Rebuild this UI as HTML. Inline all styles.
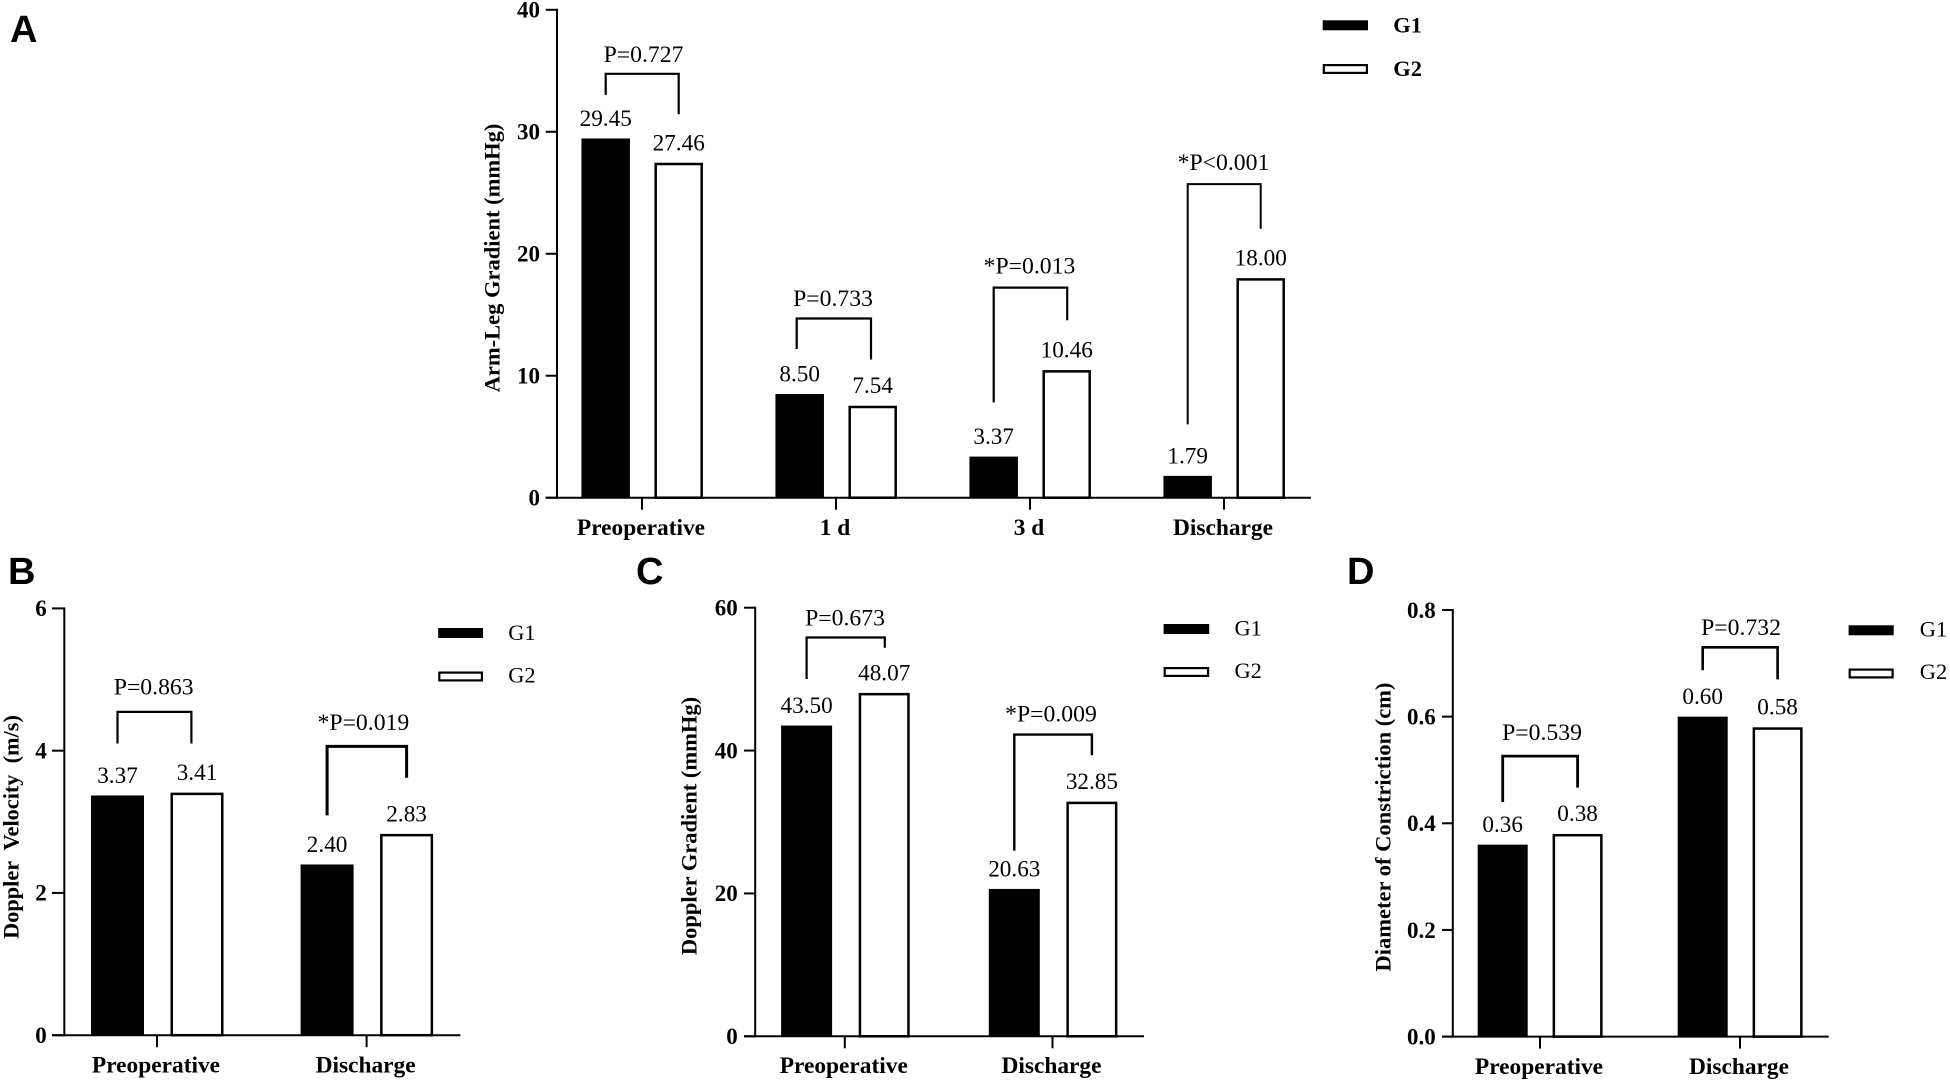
<!DOCTYPE html>
<html lang="en">
<head>
<meta charset="utf-8">
<title>Arm-Leg and Doppler Gradient Comparison</title>
<style>
html,body{margin:0;padding:0;background:#fff;width:1950px;height:1082px;overflow:hidden}
svg{display:block}
text{font-family:"Liberation Serif",serif;fill:#000;white-space:pre}
.bold{font-weight:bold}
.letter{font-family:"Liberation Sans",sans-serif;font-weight:bold;font-size:38px}
</style>
</head>
<body>
<svg id="figure" xmlns="http://www.w3.org/2000/svg" width="1950" height="1082" viewBox="0 0 1950 1082">
<rect x="0" y="0" width="1950" height="1082" fill="#fff"/>
<text class="letter" x="10" y="42">A</text>
<text class="letter" x="8" y="584">B</text>
<text class="letter" x="636" y="584">C</text>
<text class="letter" x="1347" y="584">D</text>
</svg>
<script>
// Panel A: Arm-Leg gradient
const aCategories = ["Preoperative", "1 d", "3 d", "Discharge"];
const aG1 = [29.45, 8.50, 3.37, 1.79];
const aG2 = [27.46, 7.54, 10.46, 18.00];
const aYTicks = ["0", "10", "20", "30", "40"];
const aPLabels = ["P=0.727", "P=0.733", "*P=0.013", "*P<0.001"];
const aBracketTop = [34.75, 14.69, 17.22, 25.71];
const aBracketG1 = [33.03, 12.19, 7.82, 6.01];
const aBracketG2 = [31.45, 11.33, 14.55, 22.05];
const aPLabelLevel = [35.74, 15.70, 18.37, 26.86];

// Panel B: Doppler velocity
const bCategories = ["Preoperative", "Discharge"];
const bG1 = [3.37, 2.40];
const bG2 = [3.41, 2.83];
const bYTicks = ["0", "2", "4", "6"];
const bPLabels = ["P=0.863", "*P=0.019"];
const bBracketTop = [4.545, 4.06];
const bBracketG1 = [4.10, 3.09];
const bBracketG2 = [4.10, 3.62];
const bPLabelLevel = [4.79, 4.29];

// Panel C: Doppler gradient
const cCategories = ["Preoperative", "Discharge"];
const cG1 = [43.50, 20.63];
const cG2 = [48.07, 32.85];
const cYTicks = ["0", "20", "40", "60"];
const cPLabels = ["P=0.673", "*P=0.009"];
const cBracketTop = [55.83, 42.24];
const cBracketG1 = [50.02, 26.0];
const cBracketG2 = [54.40, 39.34];
const cPLabelLevel = [57.54, 44.09];

// Panel D: Diameter of constriction
const dCategories = ["Preoperative", "Discharge"];
const dG1 = [0.36, 0.60];
const dG2 = [0.38, 0.58];
const dYTicks = ["0.0", "0.2", "0.4", "0.6", "0.8"];
const dPLabels = ["P=0.539", "P=0.732"];
const dBracketTop = [0.526, 0.730];
const dBracketG1 = [0.440, 0.687];
const dBracketG2 = [0.467, 0.670];
const dPLabelLevel = [0.556, 0.753];

const NS = "http://www.w3.org/2000/svg";
const fig = document.getElementById("figure");

function make(tag, attrs, parent) {
  const el = document.createElementNS(NS, tag);
  for (const k in attrs) el.setAttribute(k, attrs[k]);
  parent.appendChild(el);
  return el;
}
function line(parent, x1, y1, x2, y2, w) {
  return make("line", {x1: x1, y1: y1, x2: x2, y2: y2, stroke: "#000", "stroke-width": w}, parent);
}
function label(parent, str, x, y, size, anchor, bold) {
  const t = make("text", {x: x, y: y, "font-size": size, "text-anchor": anchor}, parent);
  if (bold) t.setAttribute("class", "bold");
  t.textContent = str;
  return t;
}

function drawPanel(p) {
  const g = make("g", {}, fig);
  
  

  const maxTick = Number(p.yTicks[p.yTicks.length - 1]);
  const yScale = v => p.y0 - (v / maxTick) * (p.y0 - p.yTop);
  const xScale = i => p.firstX + i * p.stepX;
  const g1X = i => xScale(i) + p.off1;
  const g2X = i => xScale(i) + p.off2;

  // bars
  p.g1.forEach((v, i) => {
    const bar = make("rect", {x: g1X(i) - p.barW / 2, y: yScale(v), width: p.barW, height: p.y0 - yScale(v), fill: "#000"}, g);
    
    
    const val = label(g, v.toFixed(2), g1X(i), yScale(v) - p.gap, 23.2, "middle", false);
    
    
  });
  p.g2.forEach((v, i) => {
    const bar = make("rect", {x: g2X(i) - p.barW / 2 + 1.25, y: yScale(v) + 1.25, width: p.barW - 2.5, height: p.y0 - yScale(v) - 1.25, fill: "#fff", stroke: "#000", "stroke-width": 2.5}, g);
    
    
    const val = label(g, v.toFixed(2), g2X(i), yScale(v) - p.gap, 23.2, "middle", false);
    
    
  });

  // axes
  const yAxis = line(g, p.axisX, p.yTop - 1, p.axisX, p.y0 + 1, 2);
  
  
  const xAxis = line(g, p.tickLeft, p.y0, p.xEnd, p.y0, 2);
  
  

  p.yTicks.forEach(t => {
    const y = yScale(Number(t));
    const mark = line(g, p.tickLeft, y, p.axisX, y, 2);
    
    
    const lab = label(g, t, p.tickLabelX, y + 7.8, 23, "end", true);
    
    
  });

  p.categories.forEach((c, i) => {
    const x = xScale(i);
    const mark = line(g, x, p.y0, x, p.y0 + 12, 2);
    
    
    const lab = label(g, c, x - 1, p.catBase, 23.4, "middle", true);
    
    
  });

  // axis title
  const title = label(g, p.title, p.titleX, p.titleY, p.titleSize, "middle", true);
  title.setAttribute("transform", "rotate(-90 " + p.titleX + " " + p.titleY + ")");
  
  

  // significance brackets
  p.pLabels.forEach((txt, i) => {
    const xL = g1X(i) + p.brL[i], xR = g2X(i) + p.brR[i];
    const d = "M" + xL + " " + yScale(p.bracketG1[i]) + "V" + yScale(p.bracketTop[i]) + "H" + xR + "V" + yScale(p.bracketG2[i]);
    const br = make("path", {d: d, fill: "none", stroke: "#000", "stroke-width": p.brW[i]}, g);
    
    
    const pl = label(g, txt, xScale(i) + p.pDx[i], yScale(p.pLevel[i]), 23.7, "middle", false);
    
    
  });

  // legend
  const s1 = make("rect", {x: p.legX, y: p.leg1Y, width: p.legW, height: 10, fill: "#000"}, g);
  
  
  const s2 = make("rect", {x: p.legX + 1.1, y: p.leg2Y + 1.1, width: p.legW - 2.2, height: 7.8, fill: "#fff", stroke: "#000", "stroke-width": 2.2}, g);
  
  
  const t1 = label(g, "G1", p.legTextX, p.leg1Base, 22.4, "start", p.legBold);
  
  
  const t2 = label(g, "G2", p.legTextX, p.leg2Base, 22.4, "start", p.legBold);
  
  
}

drawPanel({id: "a", categories: aCategories, g1: aG1, g2: aG2, yTicks: aYTicks, pLabels: aPLabels,
  bracketTop: aBracketTop, bracketG1: aBracketG1, bracketG2: aBracketG2, pLevel: aPLabelLevel,
  axisX: 557, y0: 497.7, yTop: 9.8, tickLeft: 545.7, xEnd: 1311, firstX: 642, stepX: 194,
  off1: -36.3, off2: 36.7, barW: 48.5, gap: 12.5, tickLabelX: 540, catBase: 535,
  brL: [0, -3, 0, 0], brR: [0, -1.7, 0.5, 0], brW: [2.2, 2.2, 2.2, 2], pDx: [1.5, -3, -0.5, -0.5],
  title: "Arm-Leg Gradient (mmHg)", titleX: 499.7, titleY: 258, titleSize: 22.5,
  legX: 1322.7, legW: 45.3, leg1Y: 20.3, leg2Y: 64, legTextX: 1393.3, leg1Base: 32.6, leg2Base: 76, legBold: true});

drawPanel({id: "b", categories: bCategories, g1: bG1, g2: bG2, yTicks: bYTicks, pLabels: bPLabels,
  bracketTop: bBracketTop, bracketG1: bBracketG1, bracketG2: bBracketG2, pLevel: bPLabelLevel,
  axisX: 64.3, y0: 1035.2, yTop: 608.4, tickLeft: 52, xEnd: 460.4, firstX: 157, stepX: 209.6,
  off1: -39.5, off2: 40, barW: 53, gap: 12.6, tickLabelX: 46.7, catBase: 1072.6,
  brL: [0, 0], brR: [-5.6, 0], brW: [2.2, 3], pDx: [-3.3, -3.2],
  title: "Doppler  Velocity  (m/s)", titleX: 18.4, titleY: 827, titleSize: 22.3,
  legX: 438.2, legW: 44.8, leg1Y: 628, leg2Y: 671.5, legTextX: 508.2, leg1Base: 640, leg2Base: 682.3, legBold: false});

drawPanel({id: "c", categories: cCategories, g1: cG1, g2: cG2, yTicks: cYTicks, pLabels: cPLabels,
  bracketTop: cBracketTop, bracketG1: cBracketG1, bracketG2: cBracketG2, pLevel: cPLabelLevel,
  axisX: 755.2, y0: 1036.3, yTop: 607.7, tickLeft: 744, xEnd: 1144, firstX: 844.8, stepX: 207.7,
  off1: -38.2, off2: 39.4, barW: 51, gap: 12.6, tickLabelX: 737.8, catBase: 1073,
  brL: [0, 0], brR: [0.6, 0], brW: [2.2, 2.4], pDx: [0.2, -1.5],
  title: "Doppler Gradient (mmHg)", titleX: 696.3, titleY: 826, titleSize: 22.5,
  legX: 1163.6, legW: 45.6, leg1Y: 624, leg2Y: 667, legTextX: 1234.5, leg1Base: 635.5, leg2Base: 678, legBold: false});

drawPanel({id: "d", categories: dCategories, g1: dG1, g2: dG2, yTicks: dYTicks, pLabels: dPLabels,
  bracketTop: dBracketTop, bracketG1: dBracketG1, bracketG2: dBracketG2, pLevel: dPLabelLevel,
  axisX: 1452.8, y0: 1036.6, yTop: 610, tickLeft: 1442, xEnd: 1828.7, firstX: 1540, stepX: 200,
  off1: -37.3, off2: 37.6, barW: 50, gap: 12.8, tickLabelX: 1435.7, catBase: 1074,
  brL: [0, 0], brR: [0, 0], brW: [2.8, 2.6], pDx: [2, 1],
  title: "Diameter of Constriction (cm)", titleX: 1390.6, titleY: 827, titleSize: 22.5,
  legX: 1848.6, legW: 45.1, leg1Y: 625.3, leg2Y: 668.5, legTextX: 1919.8, leg1Base: 636.5, leg2Base: 679, legBold: false});
</script>
</body>
</html>
